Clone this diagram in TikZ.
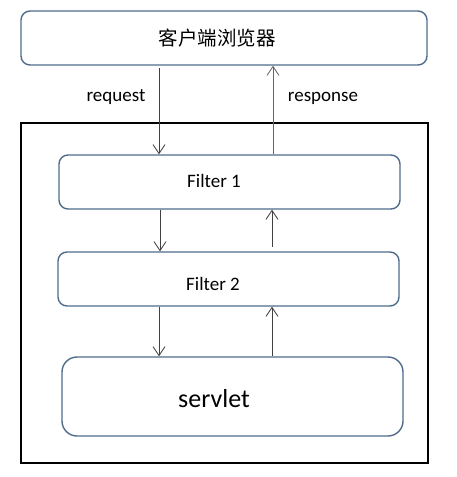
\documentclass[tikz,border=0pt]{standalone}
\usepackage{fontspec}
\setmainfont{Carlito}
\newfontfamily\cjk{Noto Sans CJK SC}
\usetikzlibrary{arrows.meta}
\definecolor{boxline}{RGB}{80,108,140}
\definecolor{arrline}{RGB}{64,64,64}
\begin{document}
\begin{tikzpicture}[x=1pt,y=-1pt,
  box/.style={draw=boxline,line width=1.4pt,rounded corners=9pt,minimum width=341pt,minimum height=54pt,inner sep=0pt,fill=white},
  lbl/.style={font=\fontsize{19}{22}\selectfont,inner sep=0pt},
  arr/.style={draw=arrline,line width=1pt,-{Straight Barb[length=9pt,width=12pt,line width=0.8pt]}}]
\useasboundingbox[fill=white] (0,0) rectangle (457,477);
% outer container
\node[draw=black,line width=2.2pt,minimum width=407pt,minimum height=340pt,inner sep=0pt] (outer) at (224.5,293) {};
% boxes
\node[box,minimum width=406pt] (top) at (224,38) {};
\node[box] (f1) at (229.5,182) {};
\node[box] (f2) at (228.5,279) {};
\node[box,minimum height=79pt,rounded corners=15pt] (sv) at (232.5,396.5) {};
% texts
\node[lbl,font=\fontsize{19.5}{22}\selectfont] (topt) at (217,38) {\cjk 客户端浏览器};
\node[lbl] (f1t) at (214,181) {Filter 1};
\node[lbl] (f2t) at (213,284) {Filter 2};
\node[inner sep=0pt,font=\fontsize{26}{30}\selectfont] (svt) at (214,399) {servlet};
\node[lbl] (req) at (116,97) {request};
\node[lbl] (resp) at (323,98) {response};
% coordinates for arrow x-positions
\coordinate (xa) at (159,68);
\coordinate (xb) at (273,0);
\coordinate (xc) at (160,0);
\coordinate (xd) at (272,247);
\coordinate (xe) at (159,0);
\coordinate (xf) at (272,0);
% arrows
\draw[arr,line width=0.9pt] (xa) -- (f1.north -| xa);
\draw[arr,draw=gray!80!black] (f1.north -| xb) -- (top.south -| xb);
\draw[arr] (f1.south -| xc) -- (f2.north -| xc);
\draw[arr] (xd) -- (f1.south -| xd);
\draw[arr] (f2.south -| xe) -- (sv.north -| xe);
\draw[arr,line width=0.9pt] (sv.north -| xf) -- (f2.south -| xf);
\end{tikzpicture}
\end{document}
